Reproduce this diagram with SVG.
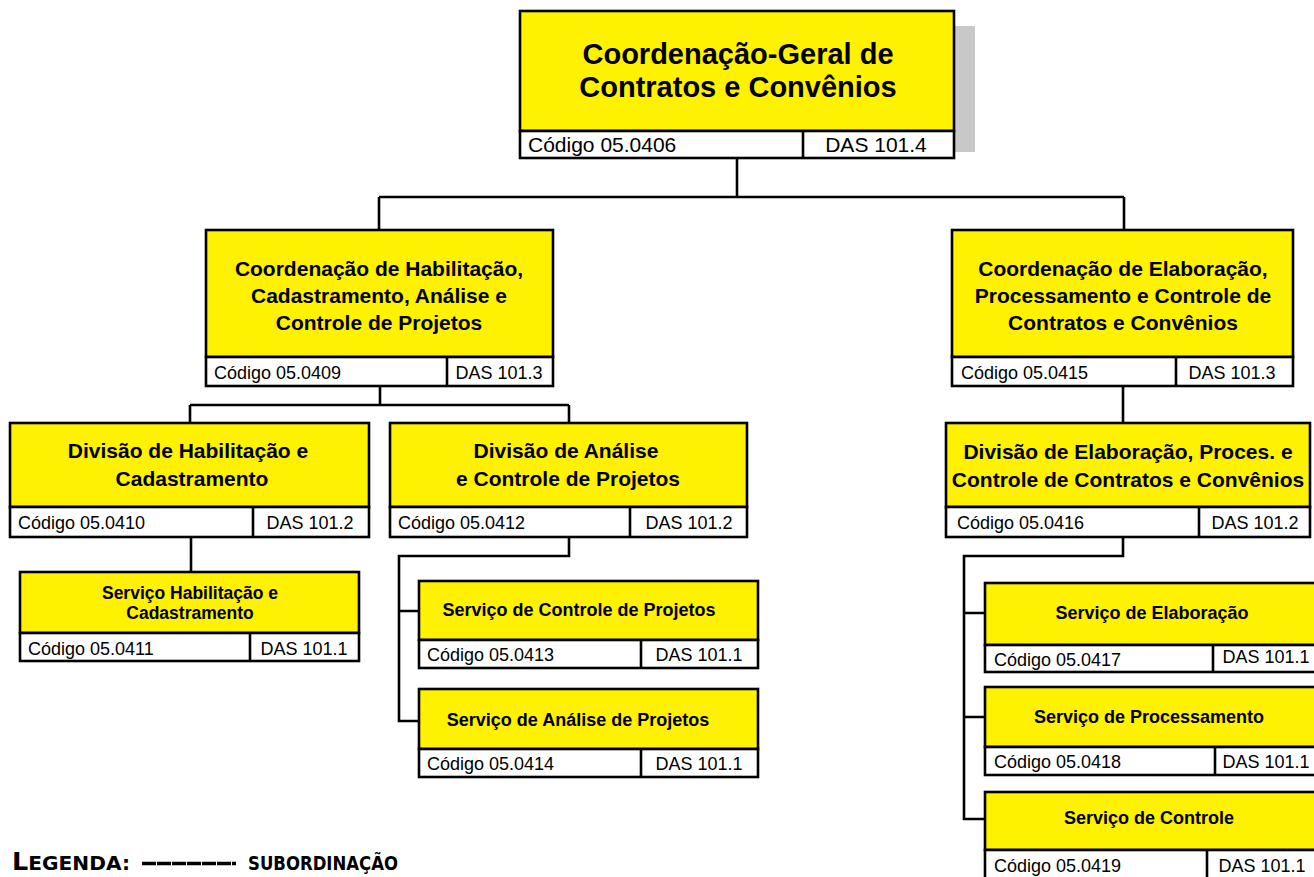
<svg xmlns="http://www.w3.org/2000/svg" width="1314" height="877" viewBox="0 0 1314 877">
<style>
.hd{fill:#FFF200;stroke:#000;stroke-width:2.6}
.rw{fill:#FFF;stroke:#000;stroke-width:2.6}
.dv{stroke:#000;stroke-width:2.6}
.cn{fill:none;stroke:#000;stroke-width:2.6}
text{font-family:"Liberation Sans",Arial,sans-serif;fill:#000}
.t29{font-size:29px;font-weight:bold;text-anchor:middle}
.t21{font-size:21px;font-weight:bold;text-anchor:middle}
.t18{font-size:18px;font-weight:bold;text-anchor:middle}
.t17{font-size:17.5px;font-weight:bold;text-anchor:middle}
.c{font-size:18px}
.cm{font-size:18px;text-anchor:middle}
.c21{font-size:21px}
.cm21{font-size:21px;text-anchor:middle}
.lg{font-family:"DejaVu Sans Condensed","DejaVu Sans",sans-serif;font-weight:bold;font-stretch:condensed}
</style>
<rect x="940" y="26" width="35" height="126" fill="#C8C8C8"/>
<g id="connectors">
<path class="cn" d="M737,158V197M379,197H1124M379,197V230M1124,197V230"/>
<path class="cn" d="M380,386V405M190,405H569M190,405V423M569,405V423"/>
<path class="cn" d="M191,537V572"/>
<path class="cn" d="M569,537V556H399V721H419M399,611H419"/>
<path class="cn" d="M1123,386V423"/>
<path class="cn" d="M1123,537V556H964V819H985M964,613H985M964,717H985"/>
</g>
<g id="n-cgcc">
<rect class="hd" x="520" y="11" width="434" height="120"/>
<rect class="rw" x="520" y="131" width="434" height="27"/>
<line class="dv" x1="803" y1="131" x2="803" y2="158"/>
<text class="t29" x="738" y="64">Coordenação-Geral de</text>
<text class="t29" x="738" y="97">Contratos e Convênios</text>
<text class="c21" x="528" y="152">Código 05.0406</text>
<text class="cm21" x="876" y="152">DAS 101.4</text>
</g>
<g id="n-chcap">
<rect class="hd" x="206" y="230" width="347" height="127"/>
<rect class="rw" x="206" y="357" width="347" height="29"/>
<line class="dv" x1="447" y1="357" x2="447" y2="386"/>
<text class="t21" x="379" y="276">Coordenação de Habilitação,</text>
<text class="t21" x="379" y="303">Cadastramento, Análise e</text>
<text class="t21" x="379" y="330">Controle de Projetos</text>
<text class="c" x="214" y="379">Código 05.0409</text>
<text class="cm" x="499" y="379">DAS 101.3</text>
</g>
<g id="n-cepcc">
<rect class="hd" x="952" y="230" width="341" height="127"/>
<rect class="rw" x="952" y="357" width="341" height="29"/>
<line class="dv" x1="1176" y1="357" x2="1176" y2="386"/>
<text class="t21" x="1123" y="276">Coordenação de Elaboração,</text>
<text class="t21" x="1123" y="303">Processamento e Controle de</text>
<text class="t21" x="1123" y="330">Contratos e Convênios</text>
<text class="c" x="961" y="379">Código 05.0415</text>
<text class="cm" x="1232" y="379">DAS 101.3</text>
</g>
<g id="n-dhc">
<rect class="hd" x="10" y="423" width="359" height="84"/>
<rect class="rw" x="10" y="507" width="359" height="30"/>
<line class="dv" x1="253" y1="507" x2="253" y2="537"/>
<text class="t21" x="188" y="458">Divisão de Habilitação e</text>
<text class="t21" x="192" y="486">Cadastramento</text>
<text class="c" x="18" y="529">Código 05.0410</text>
<text class="cm" x="310" y="529">DAS 101.2</text>
</g>
<g id="n-dacp">
<rect class="hd" x="390" y="423" width="357" height="84"/>
<rect class="rw" x="390" y="507" width="357" height="30"/>
<line class="dv" x1="630" y1="507" x2="630" y2="537"/>
<text class="t21" x="566" y="458">Divisão de Análise</text>
<text class="t21" x="568" y="486">e Controle de Projetos</text>
<text class="c" x="398" y="529">Código 05.0412</text>
<text class="cm" x="689" y="529">DAS 101.2</text>
</g>
<g id="n-depccc">
<rect class="hd" x="946" y="423" width="364" height="84"/>
<rect class="rw" x="946" y="507" width="364" height="30"/>
<line class="dv" x1="1199" y1="507" x2="1199" y2="537"/>
<text class="t21" x="1128" y="459">Divisão de Elaboração, Proces. e</text>
<text class="t21" x="1128" y="487">Controle de Contratos e Convênios</text>
<text class="c" x="957" y="529">Código 05.0416</text>
<text class="cm" x="1255" y="529">DAS 101.2</text>
</g>
<g id="n-shc">
<rect class="hd" x="20" y="572" width="339" height="61"/>
<rect class="rw" x="20" y="633" width="339" height="28"/>
<line class="dv" x1="250" y1="633" x2="250" y2="661"/>
<text class="t17" x="190" y="599">Serviço Habilitação e</text>
<text class="t17" x="190" y="619">Cadastramento</text>
<text class="c" x="28" y="655">Código 05.0411</text>
<text class="cm" x="304" y="655">DAS 101.1</text>
</g>
<g id="n-scp">
<rect class="hd" x="419" y="581" width="339" height="59"/>
<rect class="rw" x="419" y="640" width="339" height="28"/>
<line class="dv" x1="641" y1="640" x2="641" y2="668"/>
<text class="t18" x="579" y="616">Serviço de Controle de Projetos</text>
<text class="c" x="427" y="661">Código 05.0413</text>
<text class="cm" x="699" y="661">DAS 101.1</text>
</g>
<g id="n-sap">
<rect class="hd" x="419" y="689" width="339" height="60"/>
<rect class="rw" x="419" y="749" width="339" height="28"/>
<line class="dv" x1="641" y1="749" x2="641" y2="777"/>
<text class="t18" x="578" y="726">Serviço de Análise de Projetos</text>
<text class="c" x="427" y="770">Código 05.0414</text>
<text class="cm" x="699" y="770">DAS 101.1</text>
</g>
<g id="n-se">
<rect class="hd" x="985" y="583" width="335" height="62"/>
<rect class="rw" x="985" y="645" width="335" height="27"/>
<line class="dv" x1="1213" y1="645" x2="1213" y2="672"/>
<text class="t18" x="1152" y="619">Serviço de Elaboração</text>
<text class="c" x="994" y="666">Código 05.0417</text>
<text class="cm" x="1266" y="663">DAS 101.1</text>
</g>
<g id="n-sp">
<rect class="hd" x="985" y="687" width="335" height="60"/>
<rect class="rw" x="985" y="747" width="335" height="28"/>
<line class="dv" x1="1215" y1="747" x2="1215" y2="775"/>
<text class="t18" x="1149" y="723">Serviço de Processamento</text>
<text class="c" x="994" y="768">Código 05.0418</text>
<text class="cm" x="1266" y="768">DAS 101.1</text>
</g>
<g id="n-sc">
<rect class="hd" x="985" y="792" width="335" height="58"/>
<rect class="rw" x="985" y="850" width="335" height="40"/>
<line class="dv" x1="1207" y1="850" x2="1207" y2="890"/>
<text class="t18" x="1149" y="824">Serviço de Controle</text>
<text class="c" x="994" y="872">Código 05.0419</text>
<text class="cm" x="1262" y="872">DAS 101.1</text>
</g>
<g id="legend">
<text class="lg" x="12" y="870" textLength="118" lengthAdjust="spacingAndGlyphs"><tspan font-size="24">L</tspan><tspan font-size="19">EGENDA:</tspan></text>
<line x1="142" y1="863.5" x2="236" y2="863.5" stroke="#000" stroke-width="3.5" stroke-dasharray="14 1"/>
<text class="lg" x="248" y="870" font-size="19" textLength="150" lengthAdjust="spacingAndGlyphs">SUBORDINAÇÃO</text>
</g>
</svg>
